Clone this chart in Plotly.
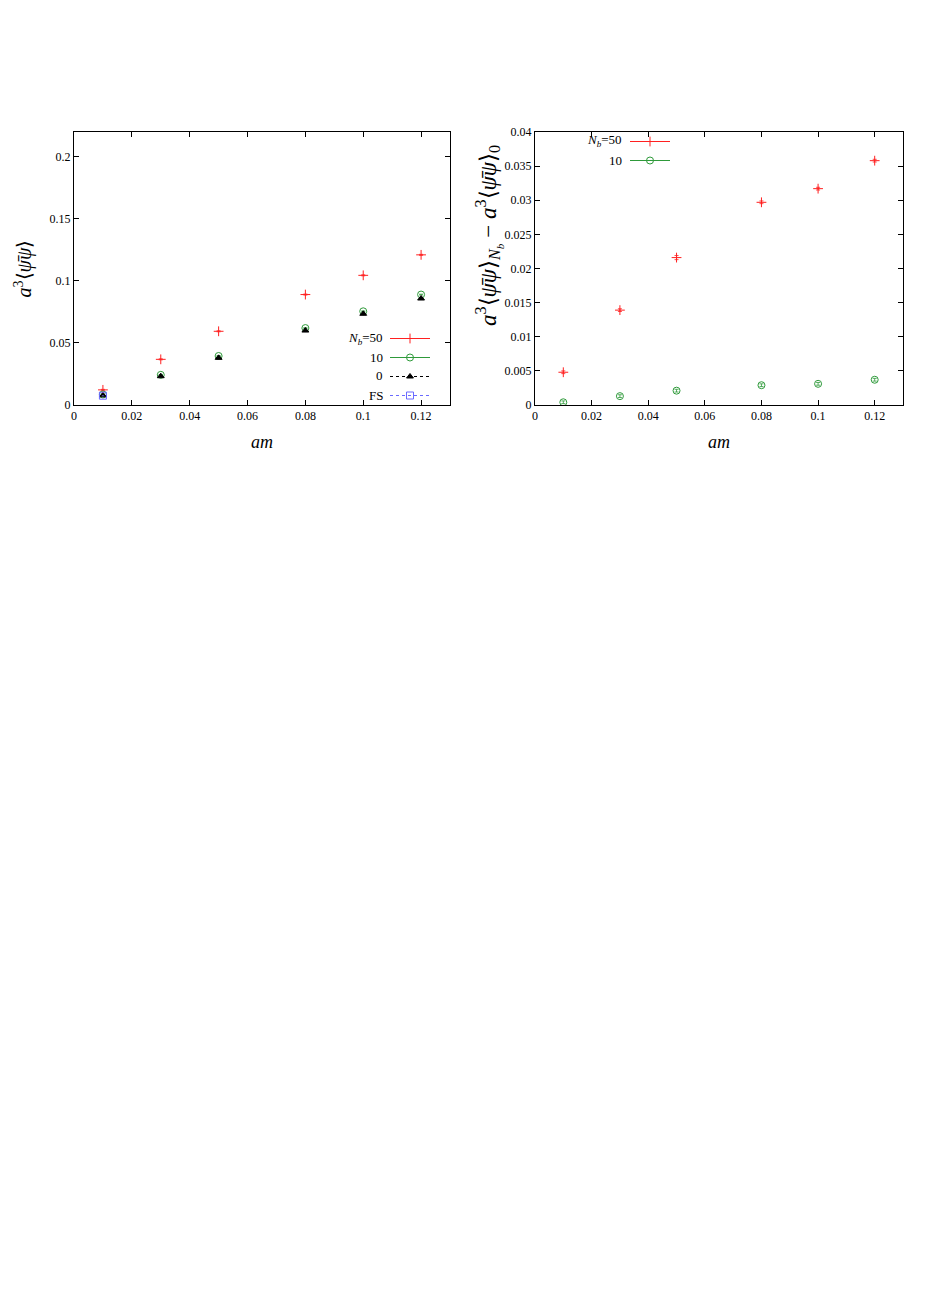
import plotly.graph_objects as go

# quark mass values
am = [0.01, 0.03, 0.05, 0.08, 0.10, 0.12]

# left panel: a^3 <psibar psi>
pbp_nb50 = [0.0122, 0.0368, 0.0594, 0.0890, 0.1045, 0.1210]
pbp_nb50_err = [0.0004, 0.0004, 0.0004, 0.0004, 0.0004, 0.0004]
pbp_nb10 = [0.0085, 0.0243, 0.0395, 0.0620, 0.0755, 0.0890]
pbp_nb10_err = [0.0003, 0.0003, 0.0003, 0.0003, 0.0003, 0.0003]
pbp_nb0 = [0.0078, 0.0232, 0.0380, 0.0600, 0.0735, 0.0858]
am_fs = [0.01]
pbp_fs = [0.0075]

# right panel: difference to N_b=0
diff_nb50 = [0.0048, 0.0139, 0.0216, 0.0297, 0.0317, 0.0358]
diff_nb50_err = [0.0002, 0.0002, 0.0003, 0.0002, 0.0002, 0.0002]
diff_nb10 = [0.0004, 0.0013, 0.0021, 0.0029, 0.0031, 0.0037]
diff_nb10_err = [0.0002, 0.0002, 0.0002, 0.0002, 0.0002, 0.0002]

labels_left = ['<i>N<sub>b</sub></i>=50', '10', '0', 'FS']
labels_right = ['<i>N<sub>b</sub></i>=50', '10']

red = '#ff2020'
green = '#2e9a3a'
black = '#000000'
blue = '#6a6aff'
FONT = 'Liberation Serif'
W, H = 926, 1309

fig = go.Figure()

def add_series(x, y, err, color, symbol, xa, ya, legend, dash='solid', size=7):
    ed = dict(type='data', array=err, color=color, thickness=0.8, width=2) if err else None
    fig.add_trace(go.Scatter(x=x, y=y, mode='markers', error_y=ed,
        marker=dict(symbol=symbol, size=size, color=color, line=dict(color=color, width=1)),
        xaxis=xa, yaxis=ya, showlegend=False))
    # legend sample: line + marker, no data drawn (label written as annotation on the left)
    fig.add_trace(go.Scatter(x=[None], y=[None], mode='lines+markers', name=' ',
        line=dict(color=color, width=1, dash=dash),
        marker=dict(symbol=symbol, size=size, color=color, line=dict(color=color, width=1)),
        xaxis=xa, yaxis=ya, legend=legend))

add_series(am, pbp_nb50, pbp_nb50_err, red, 'cross-thin', 'x', 'y', 'legend')
add_series(am, pbp_nb10, pbp_nb10_err, green, 'circle-open', 'x', 'y', 'legend')
add_series(am, pbp_nb0, None, black, 'triangle-up', 'x', 'y', 'legend', dash='dot', size=6)
add_series(am_fs, pbp_fs, None, blue, 'square-open-dot', 'x', 'y', 'legend', dash='dot')

add_series(am, diff_nb50, diff_nb50_err, red, 'cross-thin', 'x2', 'y2', 'legend2')
add_series(am, diff_nb10, diff_nb10_err, green, 'circle-open', 'x2', 'y2', 'legend2')

axis_common = dict(showgrid=False, zeroline=False, showline=True, linecolor='black', linewidth=1,
                   mirror='ticks', ticks='inside', ticklen=5, tickcolor='black', automargin=False,
                   tickfont=dict(family=FONT, size=12, color='black'))
xt = dict(range=[0, 0.13], tickvals=[0, 0.02, 0.04, 0.06, 0.08, 0.1, 0.12],
          ticktext=['0', '0.02', '0.04', '0.06', '0.08', '0.1', '0.12'],
          title=dict(text='<i>am</i>', font=dict(family=FONT, size=18, color='black'), standoff=12))

fig.update_layout(
    width=W, height=H, paper_bgcolor='white', plot_bgcolor='white',
    margin=dict(l=0, r=0, t=0, b=0),
    font=dict(family=FONT, color='black'),
    xaxis=dict(domain=[66 / W, 442 / W], anchor='y', **xt, **axis_common),
    yaxis=dict(domain=[1 - 397 / H, 1 - 124 / H], anchor='x', range=[0, 0.22],
               tickvals=[0, 0.05, 0.1, 0.15, 0.2], ticktext=['0', '0.05', '0.1', '0.15', '0.2'],
               title=dict(text='<i>a</i><sup>3</sup>⟨<i>ψ̄ψ</i>⟩', font=dict(family=FONT, size=20, color='black'), standoff=12),
               **axis_common),
    xaxis2=dict(domain=[527 / W, 895 / W], anchor='y2', **xt, **axis_common),
    yaxis2=dict(domain=[1 - 397 / H, 1 - 124 / H], anchor='x2', range=[0, 0.04],
                tickvals=[0, 0.005, 0.01, 0.015, 0.02, 0.025, 0.03, 0.035, 0.04],
                ticktext=['0', '0.005', '0.01', '0.015', '0.02', '0.025', '0.03', '0.035', '0.04'],
                **axis_common),
    legend=dict(x=377 / W, y=1 - 316 / H, xanchor='left', yanchor='top', bgcolor='rgba(0,0,0,0)',
                font=dict(family=FONT, size=12, color='black'), itemwidth=40),
    legend2=dict(x=617 / W, y=1 - 119 / H, xanchor='left', yanchor='top', bgcolor='rgba(0,0,0,0)',
                 font=dict(family=FONT, size=12, color='black'), itemwidth=40),
)

# right y-axis title as rotated annotation (sits above the axis centre, as in the original)
fig.add_annotation(text='<i>a</i><sup>3</sup>⟨<i>ψ̄ψ</i>⟩<sub><i>N<sub>b</sub></i></sub> − <i>a</i><sup>3</sup>⟨<i>ψ̄ψ</i>⟩<sub>0</sub>',
                   xref='paper', yref='paper', x=481 / W, y=1 - 228 / H, textangle=-90,
                   xanchor='center', yanchor='middle', showarrow=False,
                   font=dict(family=FONT, size=23, color='black'))

# legend labels, right-aligned in front of the samples (gnuplot style)
for i, t in enumerate(labels_left):
    fig.add_annotation(text=t, xref='paper', yref='paper', x=377 / W, y=1 - (330 + 19 * i) / H,
                       xanchor='right', yanchor='middle', showarrow=False,
                       font=dict(family=FONT, size=13, color='black'))
for i, t in enumerate(labels_right):
    fig.add_annotation(text=t, xref='paper', yref='paper', x=616 / W, y=1 - (133 + 19 * i) / H,
                       xanchor='right', yanchor='middle', showarrow=False,
                       font=dict(family=FONT, size=13, color='black'))

fig.write_html("out.html")
